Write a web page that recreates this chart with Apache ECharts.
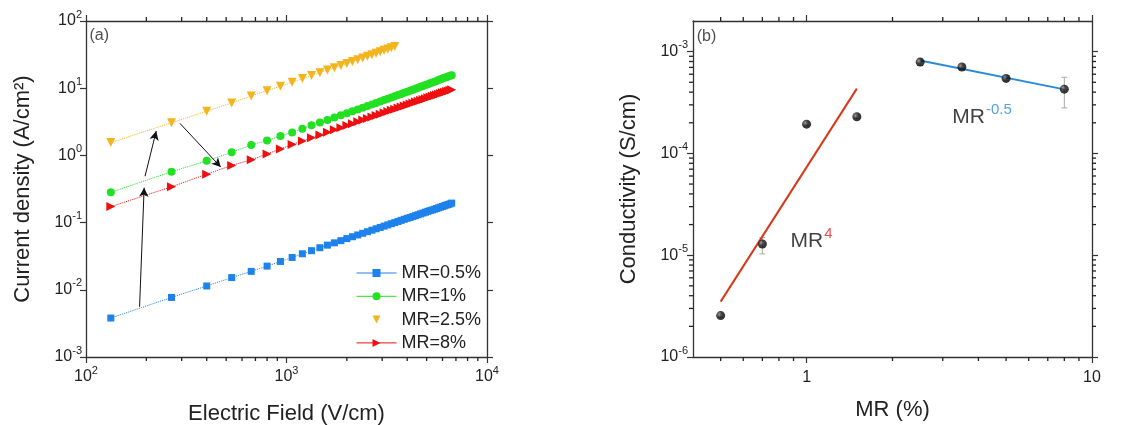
<!DOCTYPE html>
<html><head><meta charset="utf-8">
<script src="https://cdn.jsdelivr.net/npm/echarts@6/dist/echarts.min.js"></script>
<style>html,body{margin:0;padding:0;background:#fff}#c{width:1124px;height:425px}</style>
</head><body><div id="c"></div>
<script>
// ---------- Data: panel (a) ----------
const fieldE = [133,267,400,533,667,800,933,1067,1200,1333,1467,1600,1733,1867,2000,2133,2267,2400,2533,2667,
  2800,2933,3067,3200,3333,3467,3600,3733,3867,4000,4133,4267,4400,4533,4667,4800,4933,5067,5200,5333,
  5467,5600,5733,5867,6000,6133,6267,6400,6533,6667];
const J_MR05 = [0.0038,0.0077,0.0114,0.0152,0.0188,0.0225,0.0264,0.0303,0.0344,0.0382,0.0423,0.0462,0.050,0.0539,0.0578,
  0.0616,0.0655,0.0693,0.0732,0.077,0.0809,0.0847,0.0886,0.0924,0.0963,0.100,0.104,0.108,0.112,0.116,
  0.119,0.123,0.127,0.131,0.135,0.139,0.143,0.147,0.151,0.154,0.158,0.162,0.166,0.170,0.174,0.178,0.182,0.186,0.190,0.195];
const J_MR1 = [0.283,0.571,0.83,1.11,1.43,1.66,1.94,2.2,2.5,2.8,3.08,3.37,3.66,3.95,4.24,4.54,4.83,5.13,5.43,5.73,
  6.04,6.34,6.65,6.96,7.27,7.59,7.9,8.22,8.54,8.86,9.18,9.51,9.83,10.16,10.49,10.82,11.16,11.49,11.83,12.17,
  12.51,12.85,13.2,13.55,13.9,14.25,14.6,14.95,15.3,15.6];
const J_MR25 = [1.55,3.07,4.54,6.04,7.67,9.2,10.7,12.3,13.9,15.4,17.0,18.6,20.2,21.8,23.4,25.0,26.6,28.2,29.9,31.5,
  33.2,34.9,36.6,38.3,40.0,41.8];
const J_MR8 = [0.173,0.341,0.526,0.709,0.86,1.05,1.25,1.45,1.64,1.83,2.02,2.21,2.40,2.59,2.78,2.97,3.16,3.35,3.54,3.73,
  3.92,4.11,4.30,4.49,4.68,4.87,5.06,5.25,5.45,5.64,5.83,6.02,6.21,6.41,6.60,6.79,6.98,7.18,7.37,7.56,
  7.76,7.95,8.14,8.34,8.53,8.72,8.92,9.11,9.31,9.50];
const seriesNamesA = ['MR=0.5%','MR=1%','MR=2.5%','MR=8%'];
const ticksA_x = [100,1000,10000];
const minorA_x = [200,300,400,500,600,700,800,900,2000,3000,4000,5000,6000,7000,8000,9000];
const ticksA_y = [0.001,0.01,0.1,1,10,100];
// arrows (data coordinates: [E, J])
const arrowsA = [
  [[185,0.0056],[195,0.33]],
  [[197,0.49],[224,2.3]],
  [[294,3.0],[470,0.67]]
];

// ---------- Data: panel (b) ----------
const MR = [0.5,0.7,1,1.5,2.5,3.5,5,8];
const sigma = [2.55e-6,1.29e-5,1.94e-4,2.29e-4,7.9e-4,7.06e-4,5.46e-4,4.28e-4];
const sigmaLow = [2.45e-6,1.03e-5,1.86e-4,2.21e-4,7.3e-4,6.7e-4,5.15e-4,2.8e-4];
const sigmaHigh = [2.65e-6,1.49e-5,2.03e-4,2.38e-4,8.5e-4,7.4e-4,5.8e-4,5.6e-4];
const fitMR4 = [[0.5,3.5e-6],[1.5,4.33e-4]];
const fitMRm05 = [[2.5,8.2e-4],[8,4.26e-4]];
const ticksB_x = [1,10];
const minorB_x = [0.5,0.6,0.7,0.8,0.9,2,3,4,5,6,7,8,9];
const ticksB_y = [1e-6,1e-5,1e-4,1e-3];
const minorB_y = [2e-6,3e-6,4e-6,5e-6,6e-6,7e-6,8e-6,9e-6,2e-5,3e-5,4e-5,5e-5,6e-5,7e-5,8e-5,9e-5,2e-4,3e-4,4e-4,5e-4,6e-4,7e-4,8e-4,9e-4];

const FONT = 'Liberation Sans, Arial, sans-serif';
const AX = '#333';
const colors = ['#1e82ec','#22e022','#f4b41c','#ee1010'];

function powLabel(v){
  const l = Math.log10(v), e = Math.round(l);
  if (Math.abs(l-e) > 1e-6) return '';
  return '{b|10}{s|' + e + '}';
}
const richTick = {
  b:{fontSize:16,fontFamily:FONT,color:'#222',lineHeight:16,verticalAlign:'bottom'},
  s:{fontSize:11,fontFamily:FONT,color:'#222',lineHeight:11,padding:[0,0,9,0],verticalAlign:'bottom'}
};

function mkAxis(opts){
  const base = {
    type:'log', logBase:10, gridIndex:opts.grid, position:opts.pos, min:opts.min, max:opts.max,
    axisLine:{show:true,onZero:false,lineStyle:{color:AX,width:1.3}},
    axisTick:{show:true,length:6,lineStyle:{color:AX,width:1.2},customValues:opts.ticks},
    minorTick:{show:false}, splitLine:{show:false},
    axisLabel:{show:!!opts.label,customValues:opts.ticks,formatter:opts.fmt||powLabel,rich:richTick,
      margin:opts.margin||6,color:'#222',fontSize:16,fontFamily:FONT}
  };
  if (opts.name){
    base.name = opts.name; base.nameLocation='middle'; base.nameGap = opts.nameGap;
    base.nameTextStyle = {fontSize:22,fontFamily:FONT,color:'#222'};
  }
  return base;
}

function minorTickSeries(xi, yi, vals, dir, ext){
  // dir 'x' -> ticks on bottom & top; 'y' -> ticks on left & right
  return {
    type:'custom', xAxisIndex:xi, yAxisIndex:yi, silent:true, clip:false, z:5,
    data: vals.map(v => dir==='x' ? [v, ext[0]] : [ext[0], v]),
    renderItem:(p, api) => {
      const L = 4, st = {stroke:'#222', lineWidth:1.3};
      if (dir==='x'){
        const v = api.value(0);
        const a = api.coord([v, ext[0]]), b = api.coord([v, ext[1]]);
        return {type:'group',children:[
          {type:'line',shape:{x1:a[0],y1:a[1],x2:a[0],y2:a[1]+L},style:st},
          {type:'line',shape:{x1:b[0],y1:b[1],x2:b[0],y2:b[1]-L},style:st}]};
      } else {
        const v = api.value(1);
        const a = api.coord([ext[1], v]), b = api.coord([ext[2], v]);
        return {type:'group',children:[
          {type:'line',shape:{x1:a[0],y1:a[1],x2:a[0]-L,y2:a[1]},style:st},
          {type:'line',shape:{x1:b[0],y1:b[1],x2:b[0]+L,y2:b[1]},style:st}]};
      }
    }
  };
}

function zip(xs, ys){ return ys.map((y,i)=>[xs[i], y]); }

const chart = echarts.init(document.getElementById('c'));
const option = {
  animation:false,
  backgroundColor:'#fff',
  grid:[
    {left:86,right:637,top:21,bottom:68,containLabel:false,outerBoundsMode:'none'},
    {left:693,right:32,top:21,bottom:68,containLabel:false,outerBoundsMode:'none'}
  ],
  xAxis:[
    mkAxis({grid:0,pos:'bottom',min:100,max:10000,ticks:ticksA_x,label:true,margin:12,name:'Electric Field (V/cm)',nameGap:46}),
    mkAxis({grid:0,pos:'top',min:100,max:10000,ticks:ticksA_x,label:false}),
    mkAxis({grid:1,pos:'bottom',min:0.4,max:10,ticks:ticksB_x,label:true,margin:13,fmt:v=>String(Math.round(v)),name:'MR (%)',nameGap:42}),
    mkAxis({grid:1,pos:'top',min:0.4,max:10,ticks:ticksB_x,label:false})
  ],
  yAxis:[
    mkAxis({grid:0,pos:'left',min:0.001,max:100,ticks:ticksA_y,label:true,margin:4,name:'Current density (A/cm\u00B2)',nameGap:52}),
    mkAxis({grid:0,pos:'right',min:0.001,max:100,ticks:ticksA_y,label:false}),
    mkAxis({grid:1,pos:'left',min:1e-6,max:2e-3,ticks:ticksB_y,label:true,margin:5,name:'Conductivity (S/cm)',nameGap:53}),
    mkAxis({grid:1,pos:'right',min:1e-6,max:2e-3,ticks:ticksB_y,label:false})
  ],
  legend:{
    left:351, top:259, orient:'vertical', itemWidth:40, itemHeight:10, itemGap:5.3,
    textStyle:{fontSize:18,fontFamily:FONT,color:'#222',lineHeight:18},
    lineStyle:{type:'solid',width:1},
    data:[
      {name:'MR=0.5%'},{name:'MR=1%'},{name:'MR=2.5%',lineStyle:{opacity:0,width:0.001}},{name:'MR=8%'}
    ]
  },
  series:[
    {name:seriesNamesA[0],type:'line',xAxisIndex:0,yAxisIndex:0,data:zip(fieldE,J_MR05),
     symbol:'rect',symbolSize:7,itemStyle:{color:colors[0]},lineStyle:{color:colors[0],width:1,type:'dotted'},z:3,
     markLine:{silent:true,symbol:['none','arrow'],symbolSize:[7,9],label:{show:false},
       lineStyle:{color:'#111',width:1,type:'solid'},
       data:arrowsA.map(a=>[{coord:a[0]},{coord:a[1]}])}},
    {name:seriesNamesA[1],type:'line',xAxisIndex:0,yAxisIndex:0,data:zip(fieldE,J_MR1),
     symbol:'circle',symbolSize:8,itemStyle:{color:colors[1]},lineStyle:{color:colors[1],width:1,type:'dotted'},z:3},
    {name:seriesNamesA[2],type:'line',xAxisIndex:0,yAxisIndex:0,data:zip(fieldE,J_MR25),
     symbol:'triangle',symbolRotate:180,symbolSize:9,itemStyle:{color:colors[2]},lineStyle:{color:colors[2],width:1,type:'dotted'},z:3},
    {name:seriesNamesA[3],type:'line',xAxisIndex:0,yAxisIndex:0,data:zip(fieldE,J_MR8),
     symbol:'triangle',symbolRotate:-90,symbolSize:9,itemStyle:{color:colors[3]},lineStyle:{color:colors[3],width:1,type:'dotted'},z:3},
    minorTickSeries(0,0,minorA_x,'x',[0.001,100]),
    minorTickSeries(2,2,minorB_x,'x',[1e-6,2e-3]),
    minorTickSeries(2,2,minorB_y,'y',[0.4,0.4,10]),
    // panel labels
    {type:'scatter',xAxisIndex:0,yAxisIndex:0,silent:true,symbolSize:0,data:[[104,60]],
     label:{show:true,position:'right',distance:0,formatter:'(a)',fontSize:16,fontFamily:FONT,color:'#222'}},
    {type:'scatter',xAxisIndex:2,yAxisIndex:2,silent:true,symbolSize:0,data:[[0.412,1.42e-3]],
     label:{show:true,position:'right',distance:0,formatter:'(b)',fontSize:16,fontFamily:FONT,color:'#222'}},
    // error bars
    {type:'custom',xAxisIndex:2,yAxisIndex:2,silent:true,z:2,
     data:MR.map((m,i)=>[m,sigmaLow[i],sigmaHigh[i]]),
     renderItem:(p,api)=>{
       const lo = api.coord([api.value(0),api.value(1)]), hi = api.coord([api.value(0),api.value(2)]);
       const st = {stroke:'#aaa',lineWidth:1}, w = 3;
       return {type:'group',children:[
         {type:'line',shape:{x1:lo[0],y1:lo[1],x2:hi[0],y2:hi[1]},style:st},
         {type:'line',shape:{x1:lo[0]-w,y1:lo[1],x2:lo[0]+w,y2:lo[1]},style:st},
         {type:'line',shape:{x1:hi[0]-w,y1:hi[1],x2:hi[0]+w,y2:hi[1]},style:st}]};
     }},
    // fit lines
    {type:'line',xAxisIndex:2,yAxisIndex:2,data:fitMR4,symbol:'none',lineStyle:{color:'#d8381a',width:2},z:3,silent:true},
    {type:'line',xAxisIndex:2,yAxisIndex:2,data:fitMRm05,symbol:'none',lineStyle:{color:'#2a8ad8',width:2},z:3,silent:true},
    // conductivity points
    {type:'scatter',xAxisIndex:2,yAxisIndex:2,data:zip(MR,sigma),symbol:'circle',symbolSize:9,z:4,silent:true,
     itemStyle:{color:new echarts.graphic.RadialGradient(0.35,0.35,0.7,[{offset:0,color:'#888'},{offset:0.45,color:'#111'},{offset:1,color:'#000'}])}},
    // fit annotations
    {type:'scatter',xAxisIndex:2,yAxisIndex:2,silent:true,symbolSize:0,data:[[0.879,1.36e-5]],
     label:{show:true,position:'right',distance:0,formatter:'{m|MR}{s|4}',rich:{
       m:{fontSize:21,fontFamily:FONT,color:'#111',lineHeight:21,verticalAlign:'bottom'},
       s:{fontSize:15,fontFamily:FONT,color:'#e02020',lineHeight:15,padding:[0,0,11,1],verticalAlign:'bottom'}}}},
    {type:'scatter',xAxisIndex:2,yAxisIndex:2,silent:true,symbolSize:0,data:[[3.24,2.25e-4]],
     label:{show:true,position:'right',distance:0,formatter:'{m|MR}{s|-0.5}',rich:{
       m:{fontSize:21,fontFamily:FONT,color:'#111',lineHeight:21,verticalAlign:'bottom'},
       s:{fontSize:15,fontFamily:FONT,color:'#2a8ad8',lineHeight:15,padding:[0,0,11,1],verticalAlign:'bottom'}}}}
  ]
};
chart.setOption(option);
</script>
</body></html>
